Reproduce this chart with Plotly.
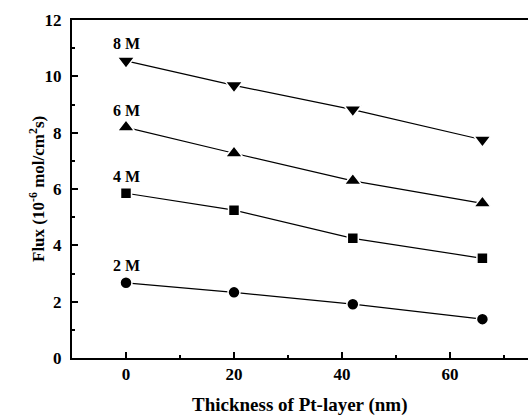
import plotly.graph_objects as go

thickness = [0, 20, 42, 66]
flux_2M = [2.67, 2.33, 1.91, 1.38]
flux_4M = [5.85, 5.25, 4.25, 3.54]
flux_6M = [8.19, 7.27, 6.29, 5.49]
flux_8M = [10.55, 9.68, 8.82, 7.75]
series = [("2 M", flux_2M, "circle", 12), ("4 M", flux_4M, "square", 11),
          ("6 M", flux_6M, "triangle-up", 15), ("8 M", flux_8M, "triangle-down", 15)]

FONT = "Liberation Serif"
fig = go.Figure()
for name, ys, sym, sz in series:
    fig.add_trace(go.Scatter(
        x=thickness, y=ys, mode="lines+markers", name=name,
        line=dict(color="black", width=1.2),
        marker=dict(symbol=sym, size=sz, color="black", line=dict(color="white", width=1.5)),
        showlegend=False))
    fig.add_annotation(x=thickness[0], y=ys[0], text="<b>" + name + "</b>", showarrow=False,
                       yshift=17, font=dict(family=FONT, size=16, color="black"))

axis_common = dict(showline=True, linecolor="black", linewidth=2, mirror=True,
                   ticks="inside", ticklen=6, tickwidth=1.5, tickcolor="black",
                   showgrid=False, zeroline=False, automargin=False,
                   tickfont=dict(family=FONT, size=17, color="black", weight="bold"))
fig.update_xaxes(range=[-10, 74.44], dtick=20, tick0=0,
                 minor=dict(ticks="inside", ticklen=3, dtick=10, tick0=0, tickcolor="black"),
                 **axis_common)
fig.update_yaxes(range=[0, 12], dtick=2, tick0=0, ticklabelstandoff=5,
                 minor=dict(ticks="inside", ticklen=3, dtick=1, tick0=0, tickcolor="black"),
                 **axis_common)
fig.add_annotation(xref="paper", yref="paper", x=0.5, y=0, yshift=-47, yanchor="middle",
                   text="<b>Thickness of Pt-layer (nm)</b>", showarrow=False,
                   font=dict(family=FONT, size=19, color="black"))
fig.add_annotation(xref="paper", yref="paper", x=-35 / 456, y=0.5, xanchor="center",
                   textangle=-90, text="<b>Flux (10<sup>-6</sup> mol/cm<sup>2</sup>s)</b>",
                   showarrow=False, font=dict(family=FONT, size=17, color="black"))
fig.update_layout(width=528, height=417, margin=dict(l=72, r=0, t=20, b=59),
                  plot_bgcolor="white", paper_bgcolor="white")
fig.write_html("out.html", config={"displayModeBar": False},
               post_script="document.body.style.margin='0';document.body.style.overflow='hidden';")
